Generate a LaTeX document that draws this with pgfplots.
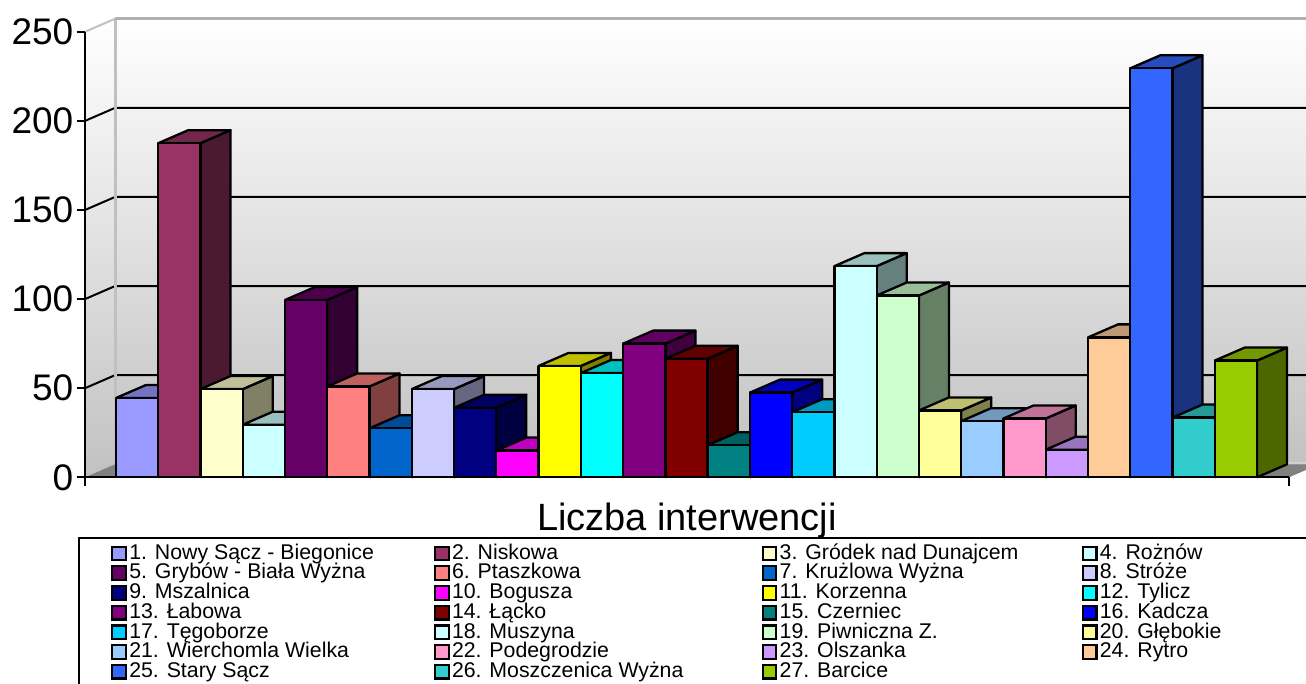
\documentclass[border=0pt]{standalone}
\usepackage{fontspec}
\setmainfont{Liberation Sans}
\usepackage{pgfplots}
\pgfplotsset{compat=1.18}
\definecolor{c1}{HTML}{9999FF}\definecolor{c2}{HTML}{993366}\definecolor{c3}{HTML}{FFFFCC}
\definecolor{c4}{HTML}{CCFFFF}\definecolor{c5}{HTML}{660066}\definecolor{c6}{HTML}{FF8080}
\definecolor{c7}{HTML}{0066CC}\definecolor{c8}{HTML}{CCCCFF}\definecolor{c9}{HTML}{000080}
\definecolor{c10}{HTML}{FF00FF}\definecolor{c11}{HTML}{FFFF00}\definecolor{c12}{HTML}{00FFFF}
\definecolor{c13}{HTML}{800080}\definecolor{c14}{HTML}{800000}\definecolor{c15}{HTML}{008080}
\definecolor{c16}{HTML}{0000FF}\definecolor{c17}{HTML}{00CCFF}\definecolor{c18}{HTML}{CCFFFF}
\definecolor{c19}{HTML}{CCFFCC}\definecolor{c20}{HTML}{FFFF99}\definecolor{c21}{HTML}{99CCFF}
\definecolor{c22}{HTML}{FF99CC}\definecolor{c23}{HTML}{CC99FF}\definecolor{c24}{HTML}{FFCC99}
\definecolor{c25}{HTML}{3366FF}\definecolor{c26}{HTML}{33CCCC}\definecolor{c27}{HTML}{99CC00}
\newcommand\tb[3]{%
 \pgfmathsetmacro\xa{#1-1}\pgfmathsetmacro\xb{#1}%
 \pgfmathsetmacro\xc{#1-1+0.71}\pgfmathsetmacro\xd{#1+0.71}\pgfmathsetmacro\yb{#2+7.3}%
 \addplot[forget plot,draw=black,fill=#3!50!black,line width=2.3pt,line join=round] coordinates {(\xb,0)(\xd,7.3)(\xd,\yb)(\xb,#2)(\xb,0)};
 \addplot[forget plot,draw=black,fill=#3!75!black,line width=2.3pt,line join=round] coordinates {(\xa,#2)(\xc,\yb)(\xd,\yb)(\xb,#2)(\xa,#2)};
 \addplot[forget plot,draw=black,fill=#3,line width=2.3pt,line join=round] coordinates {(\xa,0)(\xa,#2)(\xb,#2)(\xb,0)(\xa,0)};
}
\newcommand\grd[1]{%
 \pgfmathsetmacro\yb{#1+7.3}%
 \addplot[forget plot,black,line width=2pt] coordinates {(-0.7335,#1)(-0.0235,\yb)(28.47,\yb)};
}
\newcommand\lgd[3]{\addlegendimage{fill=#1}\addlegendentry{\makebox[#2pt][l]{#3}}}
\begin{document}
\begin{tikzpicture}
\useasboundingbox (0,0) rectangle (1306pt,684pt);
\clip (0,0) rectangle (1306pt,684pt);
\begin{axis}[
  at={(85pt,206.7pt)},anchor=south west,scale only axis,
  width=1204pt,height=445.5pt,
  xmin=-0.7335,xmax=27.757,ymin=0,ymax=250,
  clip=false,axis on top=true,
  axis x line=bottom,axis y line=left,
  axis line style={-,line width=2.2pt,black},
  every tick/.style={black,line width=2.2pt},
  tick align=outside,major tick length=8.5pt,
  xtick={-0.7335,27.757},xticklabels={},
  ytick={0,50,100,150,200,250},
  /pgf/number format/assume math mode=true,
  yticklabel style={font=\fontsize{37}{37}\selectfont,inner sep=0pt,xshift=-3pt},
  xlabel={Liczba interwencji},
  xlabel style={at={(axis description cs:0.5,-0.1185)},anchor=base,inner sep=0pt,font=\fontsize{38}{38}\selectfont},
  legend columns=4,
  legend cell align=left,
  legend image code/.code={\draw[#1,draw=black,line width=2.2pt] (1pt,-6.4pt) rectangle (14.7pt,7.3pt);},
  legend style={at={(axis description cs:-0.00581,-0.134)},anchor=north west,
    draw=black,line width=2.2pt,inner xsep=32pt,inner ysep=6pt,
    font=\fontsize{21.3}{21.3}\selectfont,
    nodes={inner sep=0pt,text height=15.2pt,text depth=4.5pt},
    /tikz/every odd column/.style={column sep=2.3pt},
    /tikz/every even column/.style={column sep=0pt},
    row sep=0pt},
]
% walls and floor
\addplot[forget plot,draw=none,shade,top color=white,bottom color=black!24] coordinates {(-0.0235,257.3)(28.47,257.3)(28.47,7.3)(-0.0235,7.3)(-0.0235,257.3)};
\addplot[forget plot,draw=none,shade,top color=white,bottom color=black!24] coordinates {(-0.7335,250)(-0.0235,257.3)(-0.0235,7.3)(-0.7335,0)(-0.7335,250)};
\addplot[forget plot,draw=none,fill=black!50] coordinates {(-0.7335,0)(-0.0235,7.3)(28.47,7.3)(27.757,0)(-0.7335,0)};
\addplot[forget plot,color={rgb,255:red,208;green,208;blue,208},line width=2pt] coordinates {(-0.0235,8.3)(28.47,8.3)};
\grd{50}\grd{100}\grd{150}\grd{200}
\addplot[forget plot,color={rgb,255:red,192;green,192;blue,192},line width=3pt] coordinates {(-0.0235,7.3)(-0.0235,257.3)};
\addplot[forget plot,color={rgb,255:red,176;green,176;blue,176},line width=3pt] coordinates {(-0.0235,257.3)(28.47,257.3)};
\addplot[forget plot,color={rgb,255:red,192;green,192;blue,192},line width=2pt] coordinates {(-0.7335,250)(-0.0235,257.3)};
\addplot[forget plot,color={rgb,255:red,192;green,192;blue,192},line width=0.8pt] coordinates {(-0.7335,1)(-0.0235,8.3)};
% bars
\tb{1}{44.5}{c1}\tb{2}{187.5}{c2}\tb{3}{49.5}{c3}\tb{4}{29.5}{c4}\tb{5}{99.5}{c5}\tb{6}{51}{c6}
\tb{7}{27.5}{c7}\tb{8}{49.5}{c8}\tb{9}{39}{c9}\tb{10}{15}{c10}\tb{11}{62.5}{c11}\tb{12}{58.5}{c12}
\tb{13}{75}{c13}\tb{14}{66.5}{c14}\tb{15}{18}{c15}\tb{16}{47.5}{c16}\tb{17}{36.5}{c17}\tb{18}{118.5}{c18}
\tb{19}{102}{c19}\tb{20}{37.5}{c20}\tb{21}{31.5}{c21}\tb{22}{33}{c22}\tb{23}{15.5}{c23}\tb{24}{78.5}{c24}
\tb{25}{229.5}{c25}\tb{26}{33.5}{c26}\tb{27}{65.5}{c27}
% legend
\lgd{c1}{304.5}{1. Nowy Sącz - Biegonice}\lgd{c2}{309.5}{2. Niskowa}\lgd{c3}{302}{3. Gródek nad Dunajcem}\lgd{c4}{250}{4. Rożnów}
\lgd{c5}{304.5}{5. Grybów - Biała Wyżna}\lgd{c6}{309.5}{6. Ptaszkowa}\lgd{c7}{302}{7. Krużlowa Wyżna}\lgd{c8}{250}{8. Stróże}
\lgd{c9}{304.5}{9. Mszalnica}\lgd{c10}{309.5}{10. Bogusza}\lgd{c11}{302}{11. Korzenna}\lgd{c12}{250}{12. Tylicz}
\lgd{c13}{304.5}{13. Łabowa}\lgd{c14}{309.5}{14. Łącko}\lgd{c15}{302}{15. Czerniec}\lgd{c16}{250}{16. Kadcza}
\lgd{c17}{304.5}{17. Tęgoborze}\lgd{c18}{309.5}{18. Muszyna}\lgd{c19}{302}{19. Piwniczna Z.}\lgd{c20}{250}{20. Głębokie}
\lgd{c21}{304.5}{21. Wierchomla Wielka}\lgd{c22}{309.5}{22. Podegrodzie}\lgd{c23}{302}{23. Olszanka}\lgd{c24}{250}{24. Rytro}
\lgd{c25}{304.5}{25. Stary Sącz}\lgd{c26}{309.5}{26. Moszczenica Wyżna}\lgd{c27}{302}{27. Barcice}
\end{axis}
\end{tikzpicture}
\end{document}
